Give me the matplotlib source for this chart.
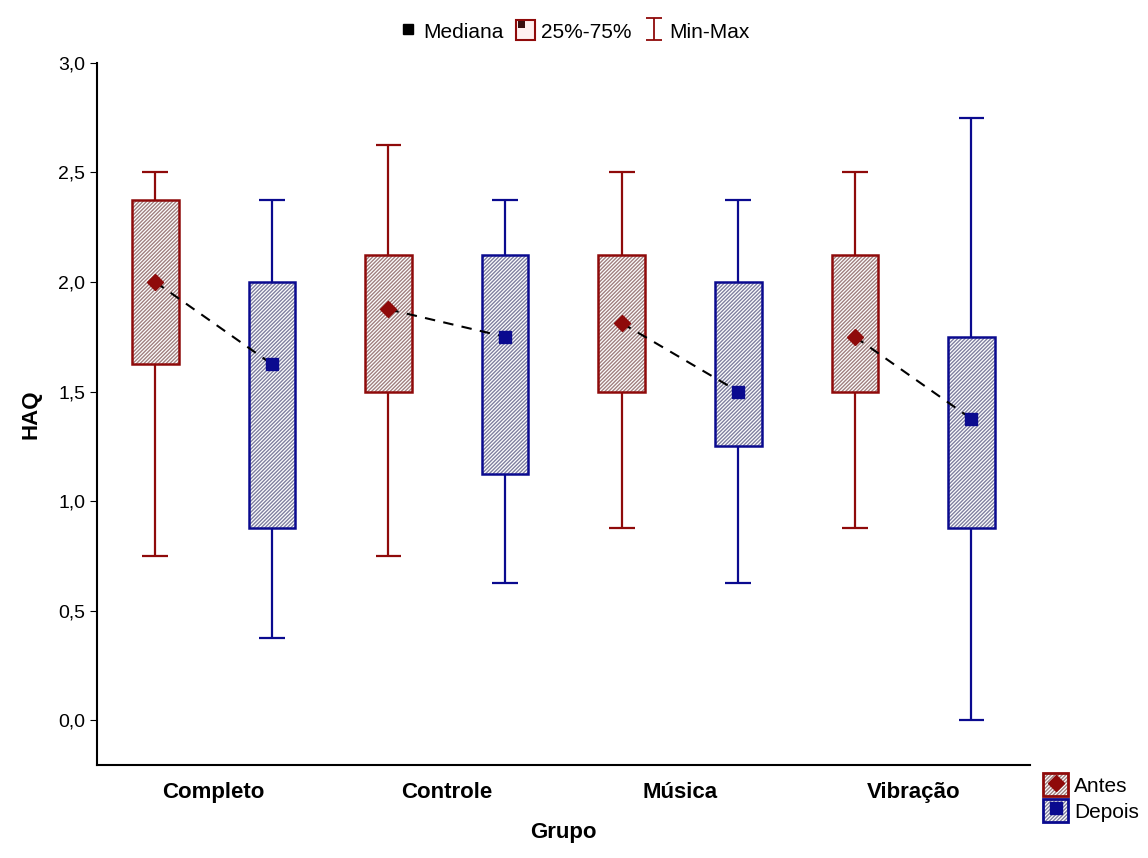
import matplotlib.pyplot as plt
import numpy as np
from matplotlib.lines import Line2D
from matplotlib.patches import Patch
from matplotlib.path import Path
from matplotlib.legend_handler import HandlerTuple

groups = ['Completo', 'Controle', 'Música', 'Vibração']

# Antes
antes_min = [0.75, 0.75, 0.875, 0.875]
antes_q1 = [1.625, 1.5, 1.5, 1.5]
antes_med = [2.0, 1.875, 1.8125, 1.75]
antes_q3 = [2.375, 2.125, 2.125, 2.125]
antes_max = [2.5, 2.625, 2.5, 2.5]

# Depois
depois_min = [0.375, 0.625, 0.625, 0.0]
depois_q1 = [0.875, 1.125, 1.25, 0.875]
depois_med = [1.625, 1.75, 1.5, 1.375]
depois_q3 = [2.0, 2.125, 2.0, 1.75]
depois_max = [2.375, 2.375, 2.375, 2.75]

red = '#8f0a0a'
blue = '#0a0a8f'
red_hatch = '#a08080'
blue_hatch = '#8080a0'
HATCH = '/////////'

plt.rcParams['font.family'] = ['Liberation Sans', 'DejaVu Sans']
plt.rcParams['hatch.linewidth'] = 1.0

fig = plt.figure(figsize=(11.48, 8.58), dpi=100)
ax = fig.add_axes([0.0845, 0.1084, 0.8125, 0.8182])

x = np.arange(len(groups))
off = 0.25
bw = 0.2
cap = 0.055


def draw(xpos, lo, q1, med, q3, hi, col, hcol, marker):
    ax.vlines(xpos, lo, q1, color=col, lw=1.6, zorder=2)
    ax.vlines(xpos, q3, hi, color=col, lw=1.6, zorder=2)
    ax.hlines(lo, xpos - cap, xpos + cap, color=col, lw=1.6, zorder=2)
    ax.hlines(hi, xpos - cap, xpos + cap, color=col, lw=1.6, zorder=2)
    h = np.array(q3) - np.array(q1)
    ax.bar(xpos, h, bw, bottom=q1, color='white', edgecolor=hcol, hatch=HATCH, lw=0, zorder=3)
    ax.bar(xpos, h, bw, bottom=q1, fill=False, edgecolor=col, lw=1.8, zorder=4)
    ax.plot(xpos, med, ls='none', marker=marker, color=col, ms=8, zorder=6)


draw(x - off, antes_min, antes_q1, antes_med, antes_q3, antes_max, red, red_hatch, 'D')
draw(x + off, depois_min, depois_q1, depois_med, depois_q3, depois_max, blue, blue_hatch, 's')

# linha tracejada entre medianas
for i in range(len(groups)):
    ax.plot([x[i] - off, x[i] + off], [antes_med[i], depois_med[i]], color='black',
            ls=(0, (5, 4)), lw=1.5, zorder=5)

ax.set_xlim(-0.5, 3.5)
ax.set_ylim(-0.205, 3.0)
yt = np.arange(0, 3.01, 0.5)
ax.set_yticks(yt)
ax.set_yticklabels([f'{v:.1f}'.replace('.', ',') for v in yt])
ax.set_xticks(x)
ax.set_xticklabels(groups, fontweight='bold', fontsize=16)
ax.tick_params(axis='x', length=0, pad=12)
ax.tick_params(axis='y', labelsize=14, length=5, direction='out')
for s in ['top', 'right']:
    ax.spines[s].set_visible(False)
ax.spines['left'].set_linewidth(1.5)
ax.spines['bottom'].set_linewidth(1.5)

ax.set_xlabel('Grupo', fontweight='bold', fontsize=16, labelpad=14)
ax.set_ylabel('HAQ', fontweight='bold', fontsize=16, labelpad=12)

# legenda superior
ipath = Path([(-0.7, -1), (0.7, -1), (0, -1), (0, 1), (-0.7, 1), (0.7, 1)],
             [Path.MOVETO, Path.LINETO, Path.MOVETO, Path.LINETO, Path.MOVETO, Path.LINETO])
qpath = Path([(-1, 0.1), (-1, 1), (-0.1, 1), (-0.1, 0.1), (-1, 0.1)],
             [Path.MOVETO, Path.LINETO, Path.LINETO, Path.LINETO, Path.CLOSEPOLY])
h_med = Line2D([], [], ls='none', marker='s', color='black', ms=7)
h_box = (Patch(facecolor='#fff0f0', edgecolor=red, lw=1.5),
         Line2D([], [], ls='none', marker=qpath, color='#3a1010', mew=0, ms=12))
h_mm = Line2D([], [], ls='none', marker=ipath, mfc='none', mec=red, ms=16, mew=1.3)
fig.legend([h_med, h_box, h_mm], ['Mediana', '25%-75%', 'Min-Max'],
           handler_map={tuple: HandlerTuple(ndivide=1)},
           loc='upper center', bbox_to_anchor=(0.5, 0.998), ncol=3, frameon=False,
           fontsize=15, handlelength=0.9, handleheight=1.1, handletextpad=0.3,
           columnspacing=0.6)

# legenda direita
h_a = (Patch(facecolor='white', edgecolor=red_hatch, hatch=HATCH, lw=0),
       Patch(fill=False, edgecolor=red, lw=2),
       Line2D([], [], ls='none', marker='D', color=red, ms=8))
h_d = (Patch(facecolor='white', edgecolor=blue_hatch, hatch=HATCH, lw=0),
       Patch(fill=False, edgecolor=blue, lw=2),
       Line2D([], [], ls='none', marker='s', color=blue, ms=8))
fig.legend([h_a, h_d], ['Antes', 'Depois'],
           handler_map={tuple: HandlerTuple(ndivide=1)},
           loc='lower right', bbox_to_anchor=(1.005, 0.025), frameon=False,
           fontsize=15, handlelength=1.2, handleheight=1.3, handletextpad=0.3,
           labelspacing=0.15, borderpad=0.2)

fig.savefig('out.png', dpi=100)
